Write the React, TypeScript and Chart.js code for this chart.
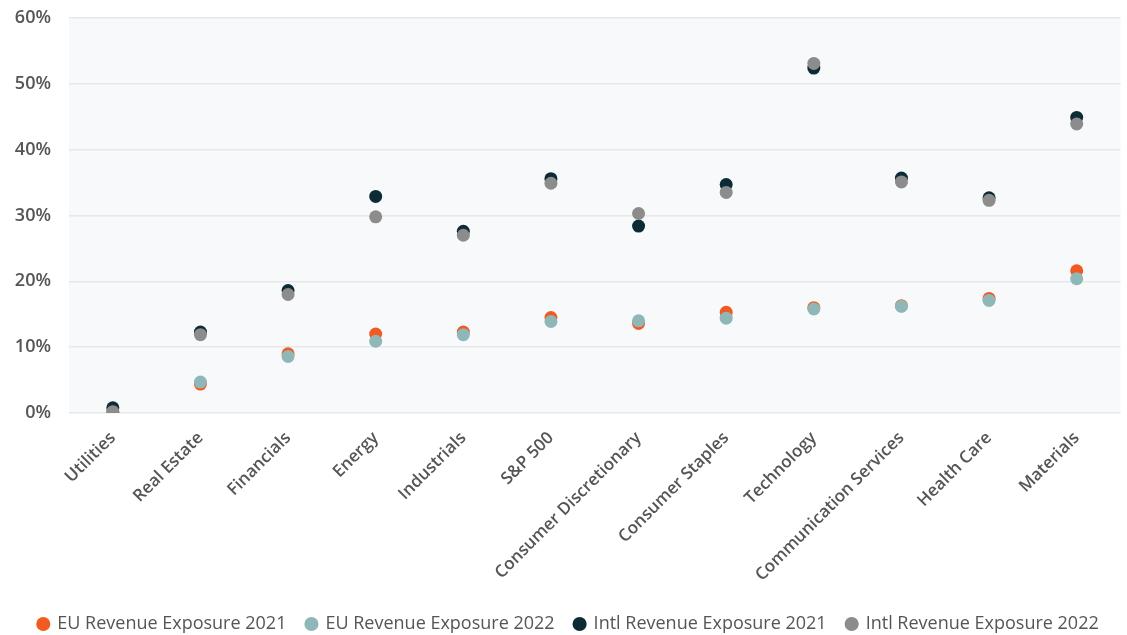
import React, { useEffect, useRef } from "react";
import { Chart, registerables } from "chart.js";

Chart.register(...registerables);

const categories = [
  "Utilities",
  "Real Estate",
  "Financials",
  "Energy",
  "Industrials",
  "S&P 500",
  "Consumer Discretionary",
  "Consumer Staples",
  "Technology",
  "Communication Services",
  "Health Care",
  "Materials",
];

const euRevenue2021 = [0.1, 4.4, 9.0, 12.0, 12.3, 14.5, 13.6, 15.3, 16.0, 16.3, 17.4, 21.6];
const euRevenue2022 = [0.1, 4.7, 8.6, 10.9, 11.9, 13.9, 14.0, 14.4, 15.8, 16.2, 17.1, 20.4];
const intlRevenue2021 = [0.8, 12.3, 18.6, 32.9, 27.6, 35.6, 28.4, 34.7, 52.4, 35.7, 32.7, 44.9];
const intlRevenue2022 = [0.2, 11.9, 18.0, 29.8, 27.0, 34.9, 30.3, 33.5, 53.1, 35.1, 32.3, 43.9];

const seriesNames = [
  "EU Revenue Exposure 2021",
  "EU Revenue Exposure 2022",
  "Intl Revenue Exposure 2021",
  "Intl Revenue Exposure 2022",
];
const seriesColors = ["#f15a22", "#8fb7b7", "#0c2b35", "#8c8c8c"];

const yTicks = [0, 10, 20, 30, 40, 50, 60];

const plotBg = {
  id: "plotBg",
  beforeDraw(chart: any) {
    const { ctx, chartArea } = chart;
    if (!chartArea) return;
    ctx.save();
    ctx.fillStyle = "#f8f9fb";
    ctx.fillRect(chartArea.left, chartArea.top, chartArea.right - chartArea.left, chartArea.bottom - chartArea.top);
    ctx.restore();
  },
};

export default function App() {
  const ref = useRef<HTMLCanvasElement | null>(null);

  useEffect(() => {
    if (!ref.current) return;
    const allSeries = [euRevenue2021, euRevenue2022, intlRevenue2021, intlRevenue2022];
    const chart = new Chart(ref.current, {
      type: "line",
      data: {
        labels: categories,
        datasets: allSeries.map((d, i) => ({
          label: seriesNames[i],
          data: d,
          order: allSeries.length - i,
          showLine: false,
          backgroundColor: seriesColors[i],
          borderColor: seriesColors[i],
          pointRadius: 6.5,
          pointBorderWidth: 0,
          pointHoverRadius: 6.5,
        })),
      },
      options: {
        animation: false,
        responsive: false,
        maintainAspectRatio: false,
        layout: { padding: { top: 18, right: 4, left: 14, bottom: -8 } },
        plugins: {
          legend: {
            position: "bottom",
            labels: {
              usePointStyle: true,
              pointStyle: "circle",
              boxWidth: 10,
              boxHeight: 10,
              padding: 20,
              color: "#555555",
              font: { family: "Open Sans", size: 18, weight: "normal" },
              sort: (a: any, b: any) => a.datasetIndex - b.datasetIndex,
            },
          },
          tooltip: { enabled: false },
        },
        scales: {
          x: {
            type: "category",
            offset: true,
            grid: { display: false },
            border: { display: false },
            afterFit: (scale: any) => {
              scale.height = 182;
            },
            ticks: {
              minRotation: 45,
              maxRotation: 45,
              autoSkip: false,
              color: "#555555",
              padding: 7,
              font: { family: "Open Sans", size: 17, weight: "600" },
            },
          },
          y: {
            min: 0,
            max: 60,
            afterFit: (scale: any) => {
              scale.width = 55;
              scale.paddingTop = 0;
              scale.paddingBottom = 0;
            },
            afterBuildTicks: (scale: any) => {
              scale.ticks = yTicks.map((v) => ({ value: v }));
            },
            grid: { color: "#e6e7ea", lineWidth: 1.5, drawTicks: false },
            border: { display: false },
            ticks: {
              padding: 18,
              color: "#555555",
              font: { family: "Open Sans", size: 18, weight: "600" },
              callback: (v: any) => v + "%",
            },
          },
        },
      },
      plugins: [plotBg],
    });
    return () => chart.destroy();
  }, []);

  return (
    <div style={{ position: "fixed", left: 0, top: 0, width: 1127, height: 635, background: "#fff" }}>
      <canvas ref={ref} width={1127} height={635} style={{ width: 1127, height: 635 }} />
    </div>
  );
}
